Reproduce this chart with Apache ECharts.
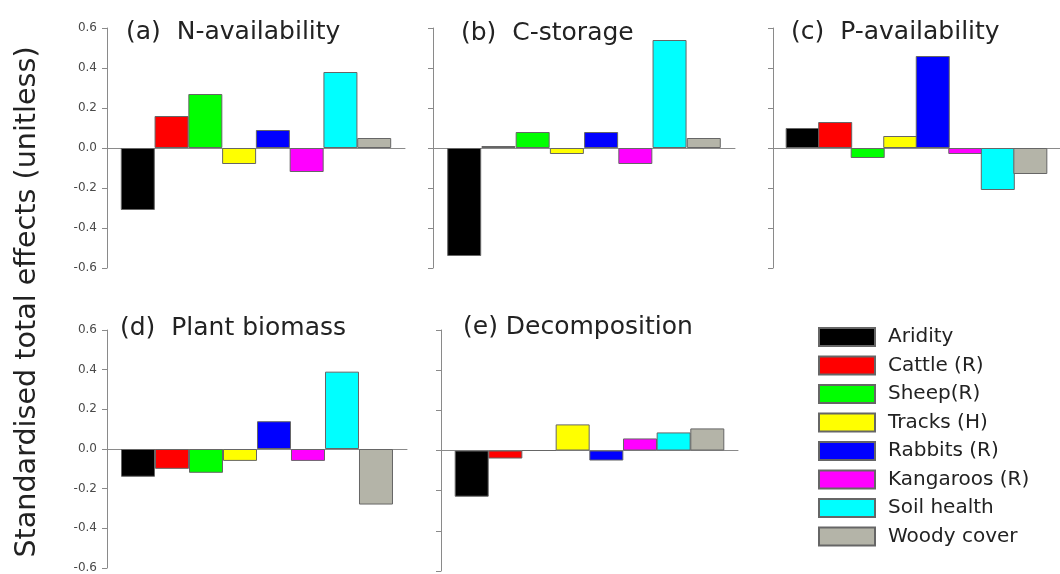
<!DOCTYPE html>
<html>
<head>
<meta charset="utf-8">
<script src="https://cdn.jsdelivr.net/npm/echarts@6/dist/echarts.min.js"></script>
<style>html,body{margin:0;padding:0;background:#fff;}#chart{width:1060px;height:574px;}</style>
</head>
<body>
<div id="chart"></div>
<script>
// ---- data ----
const categories = ['Aridity', 'Cattle (R)', 'Sheep(R)', 'Tracks (H)', 'Rabbits (R)', 'Kangaroos (R)', 'Soil health', 'Woody cover'];
const panelTitles = ['(a)  N-availability', '(b)  C-storage', '(c)  P-availability', '(d)  Plant biomass', '(e) Decomposition'];
const nAvailability = [-0.31, 0.16, 0.27, -0.08, 0.09, -0.12, 0.38, 0.05];
const cStorage      = [-0.54, 0.01, 0.08, -0.03, 0.08, -0.08, 0.54, 0.05];
const pAvailability = [0.10, 0.13, -0.05, 0.06, 0.46, -0.03, -0.21, -0.13];
const plantBiomass  = [-0.14, -0.10, -0.12, -0.06, 0.14, -0.06, 0.39, -0.28];
const decomposition = [-0.23, -0.04, 0, 0.13, -0.05, 0.06, 0.09, 0.11];
const yTicks = [-0.6, -0.4, -0.2, 0.0, 0.2, 0.4, 0.6];
const yAxisTitle = 'Standardised total effects (unitless)';

// ---- styles ----
const colors = ['#000000', '#ff0000', '#00ff00', '#ffff00', '#0000ff', '#ff00ff', '#00ffff', '#b4b4a8'];
const panels = [nAvailability, cStorage, pAvailability, plantBiomass, decomposition];
const grids = [
  {left: 107, top: 28, width: 298, height: 240},
  {left: 433, top: 28, width: 302, height: 240},
  {left: 773, top: 28, width: 298, height: 240},
  {left: 107, top: 330, width: 300, height: 241},
  {left: 441, top: 330, width: 297, height: 241}
];
const titlePos = [
  {left: 126, top: 20}, {left: 461, top: 21}, {left: 791, top: 20},
  {left: 120, top: 316}, {left: 463, top: 315}
];
const FONT = 'DejaVu Sans';
const axisGray = '#8a8a8a';
const showLabels = [true, false, false, true, false];

const xAxes = [], yAxes = [], series = [];
panels.forEach((vals, p) => {
  xAxes.push({
    gridIndex: p, type: 'value', min: -0.912, max: 7.912,
    axisLine: {show: true, onZero: true, lineStyle: {color: axisGray, width: 1}},
    axisTick: {show: false}, axisLabel: {show: false}, splitLine: {show: false}
  });
  yAxes.push({
    gridIndex: p, type: 'value', min: yTicks[0], max: yTicks[yTicks.length - 1], interval: 0.2,
    axisLine: {show: true, onZero: false, lineStyle: {color: axisGray, width: 1}},
    axisTick: {show: true, length: 5, lineStyle: {color: axisGray}},
    axisLabel: {show: showLabels[p], margin: 10, fontFamily: FONT, fontSize: 12, color: '#4a4a4a',
      formatter: v => v.toFixed(1)},
    splitLine: {show: false}
  });
  vals.forEach((v, i) => {
    series.push({
      type: 'bar', name: categories[i], xAxisIndex: p, yAxisIndex: p,
      data: [[i, v]], barWidth: 34, barGap: '-100%',
      itemStyle: {color: colors[i], borderColor: '#666', borderWidth: 1},
      emphasis: {disabled: true}
    });
  });
});

const chart = echarts.init(document.getElementById('chart'), null, {renderer: 'canvas'});
chart.setOption({
  backgroundColor: '#fff',
  animation: false,
  title: panelTitles.map((t, p) => ({
    text: t, left: titlePos[p].left, top: titlePos[p].top, padding: 0,
    textStyle: {fontFamily: FONT, fontSize: 25, fontWeight: 'normal', color: '#222'}
  })),
  legend: {
    orient: 'vertical', left: 818, top: 327, padding: 0, itemWidth: 56, itemHeight: 18, itemGap: 8.5,
    icon: 'rect', data: categories,
    textStyle: {fontFamily: FONT, fontSize: 20, color: '#222', padding: [0, 0, 0, 8]}
  },
  graphic: [{
    type: 'text', x: 28, y: 302, rotation: Math.PI / 2,
    style: {text: yAxisTitle, font: '28.6px "DejaVu Sans"', fill: '#222', align: 'center', verticalAlign: 'middle'}
  }],
  grid: grids,
  xAxis: xAxes,
  yAxis: yAxes,
  series: series
});
</script>
</body>
</html>
